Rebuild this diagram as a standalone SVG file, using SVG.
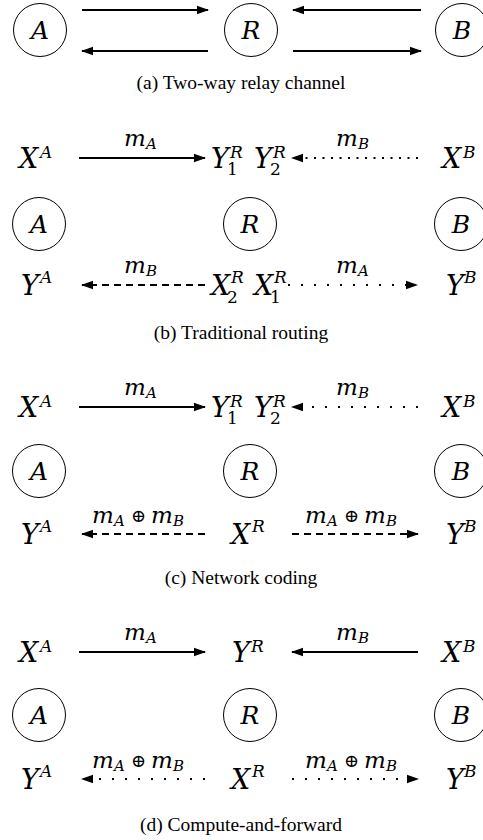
<svg xmlns="http://www.w3.org/2000/svg" width="483" height="840" viewBox="0 0 483 840">
<style>
.node{fill:none;stroke:#000;stroke-width:1}
.nl{font-family:"DejaVu Serif",serif;font-style:italic;font-size:25px;text-anchor:middle;fill:#000}
.m{font-family:"DejaVu Serif",serif;font-style:italic;font-size:27px;fill:#000}
.s{font-size:17px}
.up{font-style:normal}
.lb{font-family:"DejaVu Serif",serif;font-style:italic;font-size:23px;fill:#000}
.ls{font-size:15px}
.op{font-family:"DejaVu Serif",serif;font-style:normal;font-size:18px}
.cap{font-family:"Liberation Serif",serif;font-size:19.5px;text-anchor:middle;fill:#000}
.e{fill:none;stroke:#000;stroke-width:2}
.solid{marker-end:url(#ah)}
.dash{stroke-dasharray:7 5;marker-end:url(#ah)}
.dot{stroke-dasharray:2 11;marker-end:url(#ah)}
.ddot{stroke-dasharray:2 6.5;marker-end:url(#ah)}
</style>
<defs>
<marker id="ah" markerUnits="userSpaceOnUse" markerWidth="14" markerHeight="12" viewBox="0 0 14 12" refX="11" refY="6" orient="auto">
<path d="M0,1.8 L12,6 L0,10.2 Z" fill="#000"/>
</marker>
</defs>

<!-- (a) -->
<g id="a-A"><circle class="node" cx="40" cy="30" r="26.5"/><text class="nl" x="40" y="39">A</text></g>
<g id="a-R"><circle class="node" cx="251" cy="30" r="26.5"/><text class="nl" x="251" y="39">R</text></g>
<g id="a-B"><circle class="node" cx="462" cy="30" r="26.5"/><text class="nl" x="462" y="39">B</text></g>
<g id="a-edges">
<line class="e solid" x1="82" y1="10" x2="208" y2="10"/>
<line class="e solid" x1="421" y1="10" x2="293" y2="10"/>
<line class="e solid" x1="208" y1="51" x2="82" y2="51"/>
<line class="e solid" x1="293" y1="51" x2="421" y2="51"/>
</g>
<text class="cap" x="241" y="89">(a)  Two-way relay channel</text>

<!-- (b) -->
<g id="b-XA"><text class="m" x="19" y="168">X<tspan class="s" x="40" y="158">A</tspan></text></g>
<g id="b-Y1R"><text class="m" x="211" y="168">Y<tspan class="s up" x="227" y="175">1</tspan><tspan class="s" x="230" y="158">R</tspan></text></g>
<g id="b-Y2R"><text class="m" x="254" y="168">Y<tspan class="s up" x="270" y="175">2</tspan><tspan class="s" x="273" y="158">R</tspan></text></g>
<g id="b-XB"><text class="m" x="442" y="168">X<tspan class="s" x="463" y="158">B</tspan></text></g>
<g id="b-A"><circle class="node" cx="39" cy="224" r="26.5"/><text class="nl" x="39" y="233">A</text></g>
<g id="b-R"><circle class="node" cx="250" cy="224" r="26.5"/><text class="nl" x="250" y="233">R</text></g>
<g id="b-B"><circle class="node" cx="461" cy="224" r="26.5"/><text class="nl" x="461" y="233">B</text></g>
<g id="b-YA"><text class="m" x="21" y="295">Y<tspan class="s" x="40" y="283">A</tspan></text></g>
<g id="b-X2R"><text class="m" x="211" y="295">X<tspan class="s up" x="227" y="303">2</tspan><tspan class="s" x="231" y="283">R</tspan></text></g>
<g id="b-X1R"><text class="m" x="254" y="295">X<tspan class="s up" x="270" y="303">1</tspan><tspan class="s" x="274" y="283">R</tspan></text></g>
<g id="b-YB"><text class="m" x="446" y="295">Y<tspan class="s" x="464" y="283">B</tspan></text></g>
<g id="b-edges">
<line class="e solid" x1="79" y1="158" x2="205" y2="158"/>
<line class="e ddot" x1="418" y1="158" x2="292" y2="158"/>
<line class="e dash" x1="205" y1="285" x2="82" y2="285"/>
<line class="e dot" x1="288" y1="285" x2="417" y2="285"/>
<text class="lb" x="124" y="146">m<tspan class="ls" x="146" y="149">A</tspan></text>
<text class="lb" x="336" y="146">m<tspan class="ls" x="358" y="149">B</tspan></text>
<text class="lb" x="124" y="273">m<tspan class="ls" x="146" y="276">B</tspan></text>
<text class="lb" x="336" y="273">m<tspan class="ls" x="358" y="276">A</tspan></text>
</g>
<text class="cap" x="241" y="339">(b)  Traditional routing</text>

<!-- (c) -->
<g id="c-XA"><text class="m" x="19" y="417">X<tspan class="s" x="40" y="407">A</tspan></text></g>
<g id="c-Y1R"><text class="m" x="211" y="417">Y<tspan class="s up" x="227" y="424">1</tspan><tspan class="s" x="230" y="407">R</tspan></text></g>
<g id="c-Y2R"><text class="m" x="254" y="417">Y<tspan class="s up" x="270" y="424">2</tspan><tspan class="s" x="273" y="407">R</tspan></text></g>
<g id="c-XB"><text class="m" x="442" y="417">X<tspan class="s" x="463" y="407">B</tspan></text></g>
<g id="c-A"><circle class="node" cx="39" cy="471" r="26.5"/><text class="nl" x="39" y="480">A</text></g>
<g id="c-R"><circle class="node" cx="250" cy="471" r="26.5"/><text class="nl" x="250" y="480">R</text></g>
<g id="c-B"><circle class="node" cx="461" cy="471" r="26.5"/><text class="nl" x="461" y="480">B</text></g>
<g id="c-YA"><text class="m" x="21" y="544">Y<tspan class="s" x="40" y="532">A</tspan></text></g>
<g id="c-XR"><text class="m" x="231" y="544">X<tspan class="s" x="252" y="532">R</tspan></text></g>
<g id="c-YB"><text class="m" x="446" y="544">Y<tspan class="s" x="464" y="532">B</tspan></text></g>
<g id="c-edges">
<line class="e solid" x1="79" y1="407" x2="205" y2="407"/>
<line class="e dot" x1="418" y1="407" x2="292" y2="407"/>
<line class="e dash" x1="205" y1="534" x2="82" y2="534"/>
<line class="e dash" x1="292" y1="534" x2="418" y2="534"/>
<text class="lb" x="124" y="395">m<tspan class="ls" x="146" y="398">A</tspan></text>
<text class="lb" x="336" y="395">m<tspan class="ls" x="358" y="398">B</tspan></text>
<text class="lb" x="92" y="523">m<tspan class="ls" x="114" y="526">A</tspan><tspan class="op" x="131" y="522">⊕</tspan><tspan x="151" y="523">m</tspan><tspan class="ls" x="173" y="526">B</tspan></text>
<text class="lb" x="305" y="523">m<tspan class="ls" x="327" y="526">A</tspan><tspan class="op" x="344" y="522">⊕</tspan><tspan x="364" y="523">m</tspan><tspan class="ls" x="386" y="526">B</tspan></text>
</g>
<text class="cap" x="241" y="584">(c)  Network coding</text>

<!-- (d) -->
<g id="d-XA"><text class="m" x="19" y="662">X<tspan class="s" x="40" y="652">A</tspan></text></g>
<g id="d-YR"><text class="m" x="232" y="662">Y<tspan class="s" x="251" y="652">R</tspan></text></g>
<g id="d-XB"><text class="m" x="442" y="662">X<tspan class="s" x="463" y="652">B</tspan></text></g>
<g id="d-A"><circle class="node" cx="39" cy="715" r="26.5"/><text class="nl" x="39" y="724">A</text></g>
<g id="d-R"><circle class="node" cx="250" cy="715" r="26.5"/><text class="nl" x="250" y="724">R</text></g>
<g id="d-B"><circle class="node" cx="461" cy="715" r="26.5"/><text class="nl" x="461" y="724">B</text></g>
<g id="d-YA"><text class="m" x="21" y="789">Y<tspan class="s" x="40" y="777">A</tspan></text></g>
<g id="d-XR"><text class="m" x="231" y="789">X<tspan class="s" x="252" y="777">R</tspan></text></g>
<g id="d-YB"><text class="m" x="446" y="789">Y<tspan class="s" x="464" y="777">B</tspan></text></g>
<g id="d-edges">
<line class="e solid" x1="79" y1="652" x2="205" y2="652"/>
<line class="e solid" x1="418" y1="652" x2="292" y2="652"/>
<line class="e dot" x1="205" y1="779" x2="82" y2="779"/>
<line class="e dot" x1="292" y1="779" x2="418" y2="779"/>
<text class="lb" x="124" y="640">m<tspan class="ls" x="146" y="643">A</tspan></text>
<text class="lb" x="336" y="640">m<tspan class="ls" x="358" y="643">B</tspan></text>
<text class="lb" x="92" y="768">m<tspan class="ls" x="114" y="771">A</tspan><tspan class="op" x="131" y="767">⊕</tspan><tspan x="151" y="768">m</tspan><tspan class="ls" x="173" y="771">B</tspan></text>
<text class="lb" x="305" y="768">m<tspan class="ls" x="327" y="771">A</tspan><tspan class="op" x="344" y="767">⊕</tspan><tspan x="364" y="768">m</tspan><tspan class="ls" x="386" y="771">B</tspan></text>
</g>
<text class="cap" x="241" y="831">(d)  Compute-and-forward</text>
</svg>
